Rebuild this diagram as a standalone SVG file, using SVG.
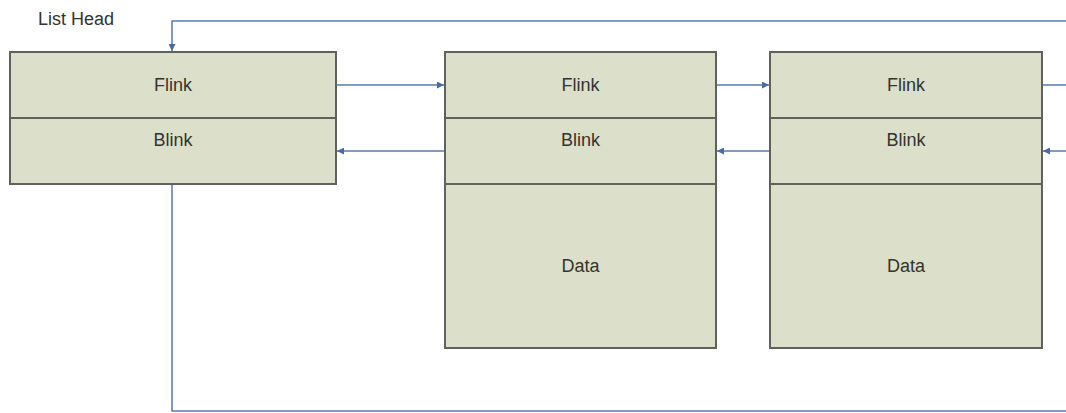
<svg xmlns="http://www.w3.org/2000/svg" width="1066" height="413" viewBox="0 0 1066 413">
  <style>
    .cell { fill: #dcdfc9; stroke: #5f625a; stroke-width: 2; }
    .lbl { font-family: "Liberation Sans", Arial, sans-serif; font-size: 18px; fill: #33332f; text-anchor: middle; }
    .title { font-family: "Liberation Sans", Arial, sans-serif; font-size: 18px; fill: #33332f; }
    .link { fill: none; stroke: #5a78ad; stroke-width: 1.5; }
  </style>
  <defs>
    <marker id="arrow" viewBox="0 0 10 10" refX="10" refY="5" markerWidth="8" markerHeight="7" markerUnits="userSpaceOnUse" orient="auto">
      <path d="M0,0 L10,5 L0,10 z" fill="#4a6aa5"/>
    </marker>
  </defs>
  <rect width="1066" height="413" fill="#ffffff"/>

  <text class="title" x="38" y="25">List Head</text>

  <!-- list entries -->
  <g id="list-head">
    <rect class="cell" x="10" y="52" width="326" height="66"/>
    <rect class="cell" x="10" y="118" width="326" height="66"/>
    <text class="lbl" x="173" y="91">Flink</text>
    <text class="lbl" x="173" y="146">Blink</text>
  </g>

  <g id="entry-1">
    <rect class="cell" x="445" y="52" width="271" height="66"/>
    <rect class="cell" x="445" y="118" width="271" height="66"/>
    <rect class="cell" x="445" y="184" width="271" height="164"/>
    <text class="lbl" x="580.5" y="91">Flink</text>
    <text class="lbl" x="580.5" y="146">Blink</text>
    <text class="lbl" x="580.5" y="272">Data</text>
  </g>

  <g id="entry-2">
    <rect class="cell" x="770" y="52" width="272" height="66"/>
    <rect class="cell" x="770" y="118" width="272" height="66"/>
    <rect class="cell" x="770" y="184" width="272" height="164"/>
    <text class="lbl" x="906" y="91">Flink</text>
    <text class="lbl" x="906" y="146">Blink</text>
    <text class="lbl" x="906" y="272">Data</text>
  </g>

  <!-- forward and backward links -->
  <g id="connectors">
    <path class="link" d="M1066,21 H172 V51" marker-end="url(#arrow)"/>
    <path class="link" d="M337,85 H444" marker-end="url(#arrow)"/>
    <path class="link" d="M444,151 H337" marker-end="url(#arrow)"/>
    <path class="link" d="M717,85 H769" marker-end="url(#arrow)"/>
    <path class="link" d="M769,151 H717" marker-end="url(#arrow)"/>
    <path class="link" d="M1043,85 H1066"/>
    <path class="link" d="M1066,151 H1043" marker-end="url(#arrow)"/>
    <path class="link" d="M172,185 V411 H1066"/>
  </g>
</svg>
